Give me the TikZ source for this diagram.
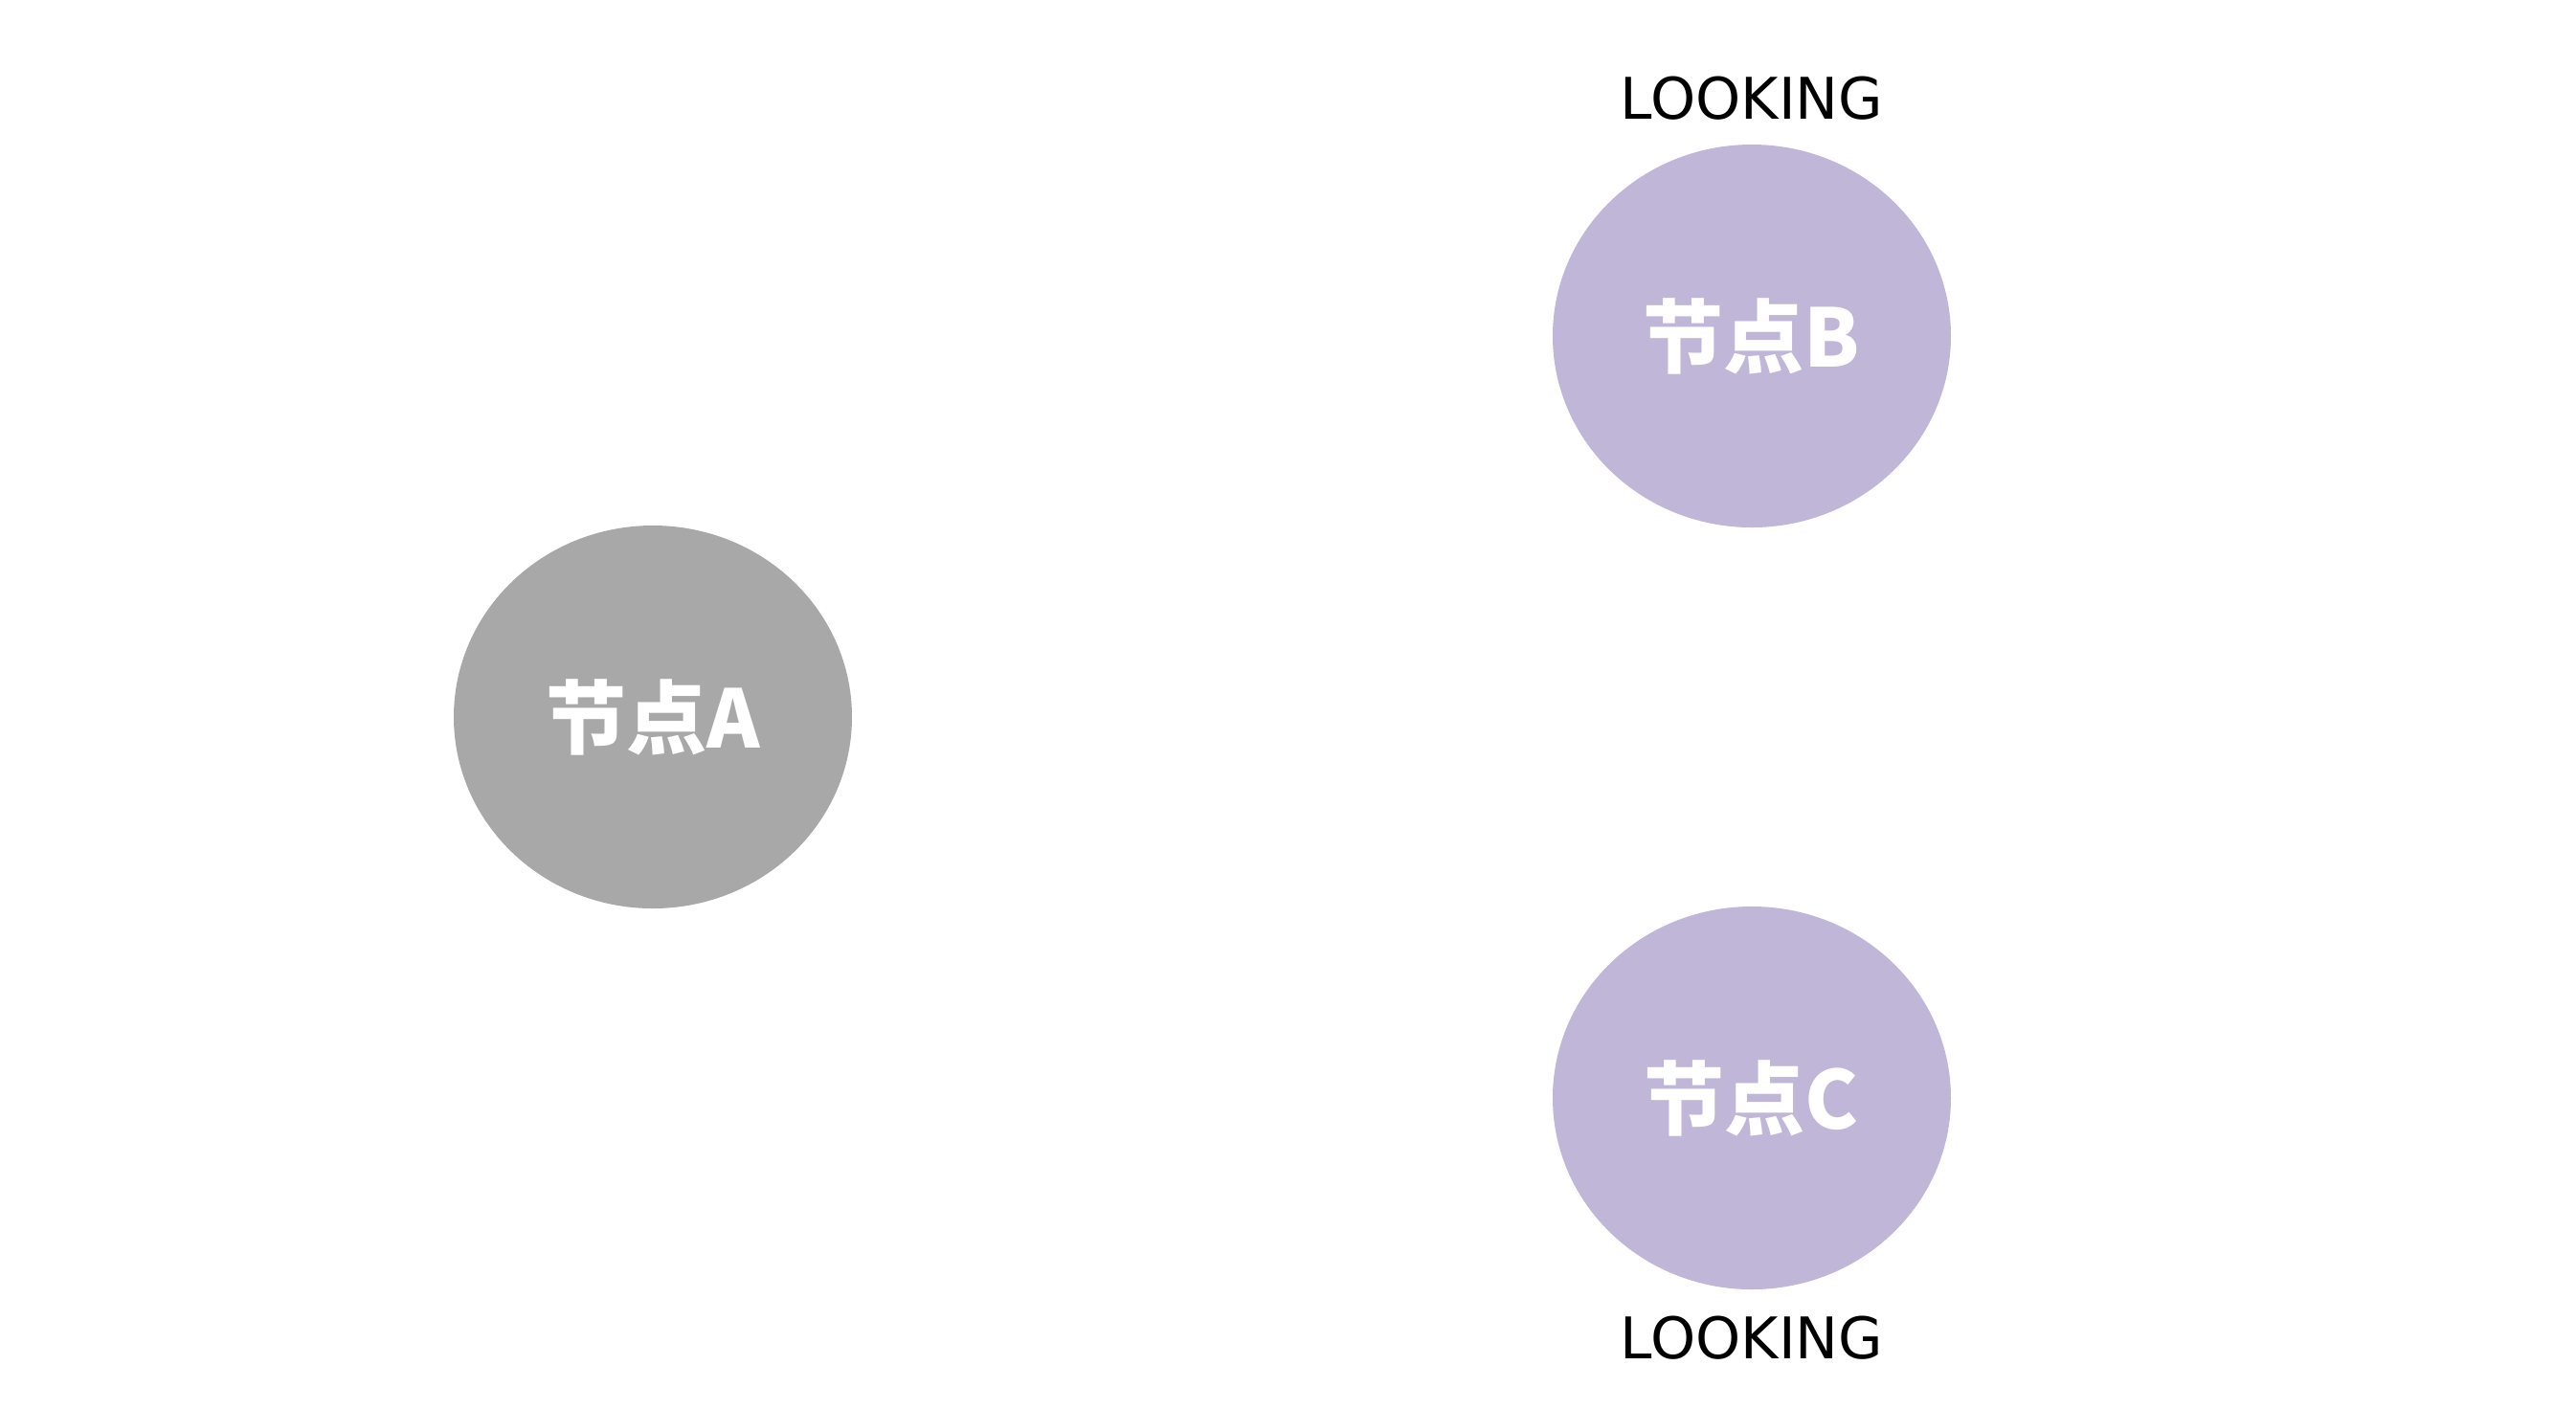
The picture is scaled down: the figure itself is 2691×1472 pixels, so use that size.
\documentclass[tikz,border=0pt]{standalone}
\usepackage{fontspec}
\setmainfont{DejaVu Sans}
\newfontfamily\cjk{Noto Sans CJK SC}
\usetikzlibrary{shapes.geometric,positioning}
\definecolor{nodegray}{RGB}{168,168,168}
\definecolor{nodepurple}{RGB}{191,182,216}
\tikzset{
  peer/.style={ellipse, draw=none, minimum width=104pt, minimum height=100pt,
    text=white, font=\cjk\bfseries\fontsize{21}{21}\selectfont},
  state/.style={inner sep=0pt, font=\fontsize{15}{15}\selectfont}
}

\begin{document}
\begin{tikzpicture}[x=0.25pt,y=0.25pt,yscale=-1,xscale=1]
\useasboundingbox (0,0) rectangle (2691,1472);

% Ellipse nodes
\node [peer, fill=nodegray] (nodeA) at (682,749) {节点A};
\node [peer, fill=nodepurple] (nodeB) at (1830,351) {节点B};
\node [peer, fill=nodepurple] (nodeC) at (1830,1147) {节点C};

% Text Node
\node [state, above=6pt of nodeB] (lookB) {LOOKING};
% Text Node
\node [state, below=6.5pt of nodeC] (lookC) {LOOKING};

\end{tikzpicture}
\end{document}
